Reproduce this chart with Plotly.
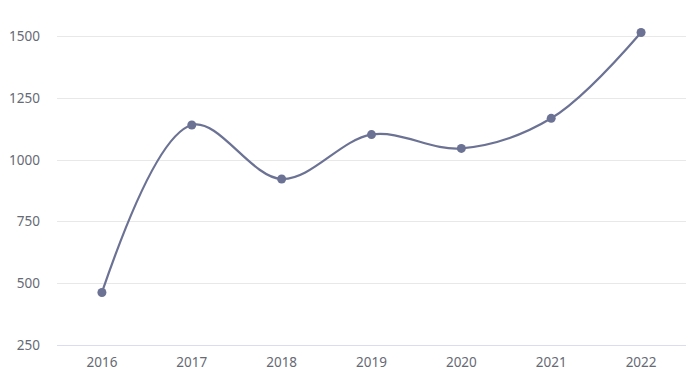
import plotly.graph_objects as go

years = ["2016", "2017", "2018", "2019", "2020", "2021", "2022"]
values = [463, 1142, 923, 1103, 1047, 1169, 1517]
y_ticks = [250, 500, 750, 1000, 1250, 1500]

fig = go.Figure()
fig.add_trace(go.Scatter(
    x=years, y=values, mode="lines+markers",
    line=dict(color="#6c7294", width=2.2, shape="spline", smoothing=1.0),
    marker=dict(color="#6c7294", size=9),
    hoverinfo="x+y", showlegend=False,
))

fig.update_layout(
    width=695, height=375,
    margin=dict(l=57, r=9, t=12, b=30, autoexpand=False),
    paper_bgcolor="white", plot_bgcolor="white",
    font=dict(family="Noto Sans", size=13.5, color="#666a75"),
    xaxis=dict(
        type="category", range=[-0.5, 6.5], automargin=False,
        showgrid=False, zeroline=False,
        showline=True, linecolor="#d9ddef", linewidth=1,
        ticks="", ticklabelstandoff=5,
    ),
    yaxis=dict(
        range=[250, 1600], tickvals=y_ticks, automargin=False,
        showgrid=True, gridcolor="#e8e8e8", gridwidth=1,
        zeroline=False, showline=False, ticks="",
        ticklabelstandoff=16,
    ),
)

fig.write_html("out.html", config={"displayModeBar": False})

with open("out.html", "r", encoding="utf-8") as f:
    html = f.read()
html = html.replace("<head>", "<head><style>html,body{margin:0;padding:0;overflow:hidden;}</style>", 1)
with open("out.html", "w", encoding="utf-8") as f:
    f.write(html)
